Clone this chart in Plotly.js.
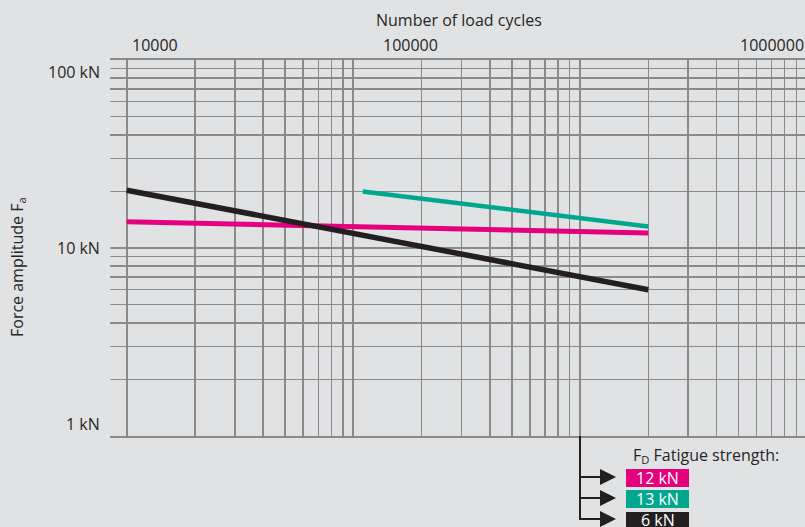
<!DOCTYPE html>
<html>
<head>
<meta charset="utf-8">
<script src="https://cdn.plot.ly/plotly-3.0.1.min.js"></script>
<style>
  html, body { margin: 0; padding: 0; background: #e1e2e4; overflow: hidden; }
  #chart { width: 805px; height: 527px; }
</style>
</head>
<body>
<div id="chart"></div>
<script>
// S-N (Wöhler) curves: force amplitude versus number of load cycles
const cycles12 = [10000, 2000000];
const force12 = [13.8, 12];
const cycles13 = [110000, 2000000];
const force13 = [20, 13];
const cycles6 = [10000, 2000000];
const force6 = [20.3, 6];

const legendLabels = ['12 kN', '13 kN', '6 kN'];
const xTickLabels = ['10000', '100000', '1000000'];
const yTickLabels = ['100 kN', '10 kN', '1 kN'];

const PINK = '#e5007d';
const TEAL = '#00a78e';
const BLACK = '#231f20';
const GRID = '#8a8a8a';
const BG = '#e1e2e4';
const TEXT = '#262626';
const FONT = 'Open Sans, Noto Sans, sans-serif';

// plot area in pixels
const L = 110, R = 805, T = 60, B = 436;
const W = R - L, H = B - T;
const px = x => (x - L) / W;
const py = y => (B - y) / H;

// decade gridlines and the intermediate 2..9 lines
const majorX = [1e4, 1e5, 1e6];
const minorX = [];
[1e4, 1e5, 1e6].forEach(d => { for (let k = 2; k <= 9; k++) minorX.push(k * d); });
const majorY = [1, 10, 100];
const minorY = [];
[1, 10].forEach(d => { for (let k = 2; k <= 9; k++) minorY.push(k * d); });

const lineTrace = (x, y, color, width) => ({
  x: x, y: y, type: 'scatter', mode: 'lines',
  line: { color: color, width: width },
  hoverinfo: 'skip', showlegend: false
});

const data = [
  lineTrace(cycles12, force12, PINK, 5),
  lineTrace(cycles13, force13, TEAL, 4.5),
  lineTrace(cycles6, force6, BLACK, 5.5)
];

const txt = (text, x, y, opts) => Object.assign({
  text: text, xref: 'paper', yref: 'paper', x: x, y: y,
  showarrow: false, xanchor: 'center', yanchor: 'middle',
  font: { family: FONT, size: 16, color: TEXT }
}, opts || {});

const annotations = [
  txt('Number of load cycles', px(458.5), py(20)),
  txt(xTickLabels[0], px(155), py(45)),
  txt(xTickLabels[1], px(410), py(45)),
  txt(xTickLabels[2], px(772), py(45)),
  txt(yTickLabels[0], px(102), py(72), { xanchor: 'right' }),
  txt(yTickLabels[1], px(102), py(248), { xanchor: 'right' }),
  txt(yTickLabels[2], px(102), py(424), { xanchor: 'right' }),
  txt('Force amplitude F<sub>a</sub>', px(17), py(267), { textangle: -90 }),
  txt('F<sub>D</sub> Fatigue strength:', px(631), py(456), { xanchor: 'left' })
];

// legend: arrows branching off the 10^6 gridline into coloured value boxes
const rowY = [477, 498, 519];
const boxTop = [469, 490, 512];
const boxBottom = [487, 508, 540];
const boxColors = [PINK, TEAL, BLACK];

const shapes = [
  { type: 'line', xref: 'paper', yref: 'paper', x0: px(580), x1: px(580), y0: py(B), y1: py(520),
    line: { color: BLACK, width: 2 }, layer: 'above' }
];

rowY.forEach((y, i) => {
  shapes.push({
    type: 'line', xref: 'paper', yref: 'paper',
    x0: px(580), x1: px(604), y0: py(y), y1: py(y),
    line: { color: BLACK, width: 2 }, layer: 'above'
  });
  annotations.push({
    xref: 'paper', yref: 'paper', x: px(616), y: py(y),
    ax: -30, ay: 0, text: '', showarrow: true,
    arrowhead: 2, arrowsize: 1.6, arrowwidth: 2, arrowcolor: BLACK, standoff: 0
  });
  shapes.push({
    type: 'rect', xref: 'paper', yref: 'paper',
    x0: px(626), x1: px(689), y0: py(boxBottom[i]), y1: py(boxTop[i]),
    fillcolor: boxColors[i], line: { width: 0 }, layer: 'above'
  });
  annotations.push(txt(legendLabels[i], px(657.5), py(y + 1),
    { font: { family: FONT, size: 16, color: '#ffffff' } }));
});

const layout = {
  width: 805, height: 527,
  margin: { l: L, r: 805 - R, t: T, b: 527 - B, pad: 0 },
  paper_bgcolor: BG, plot_bgcolor: BG,
  showlegend: false,
  xaxis: {
    type: 'log', range: [4 - 16.7 / 226.7, 6 + 225 / 226.7],
    tickvals: majorX, showticklabels: false, ticks: '',
    showgrid: true, gridcolor: GRID, gridwidth: 2, zeroline: false,
    showline: true, mirror: true, linecolor: GRID, linewidth: 2,
    minor: { tickvals: minorX, showgrid: true, gridcolor: GRID, gridwidth: 1.5, ticks: '' },
    fixedrange: true
  },
  yaxis: {
    type: 'log', range: [0, 2],
    tickvals: majorY, showticklabels: false, ticks: '',
    showgrid: true, gridcolor: GRID, gridwidth: 2, zeroline: false, showline: false,
    minor: { tickvals: minorY, showgrid: true, gridcolor: GRID, gridwidth: 1.5, ticks: '' },
    fixedrange: true
  },
  annotations: annotations,
  shapes: shapes
};

Plotly.newPlot('chart', data, layout, { displayModeBar: false, staticPlot: true });
</script>
</body>
</html>
